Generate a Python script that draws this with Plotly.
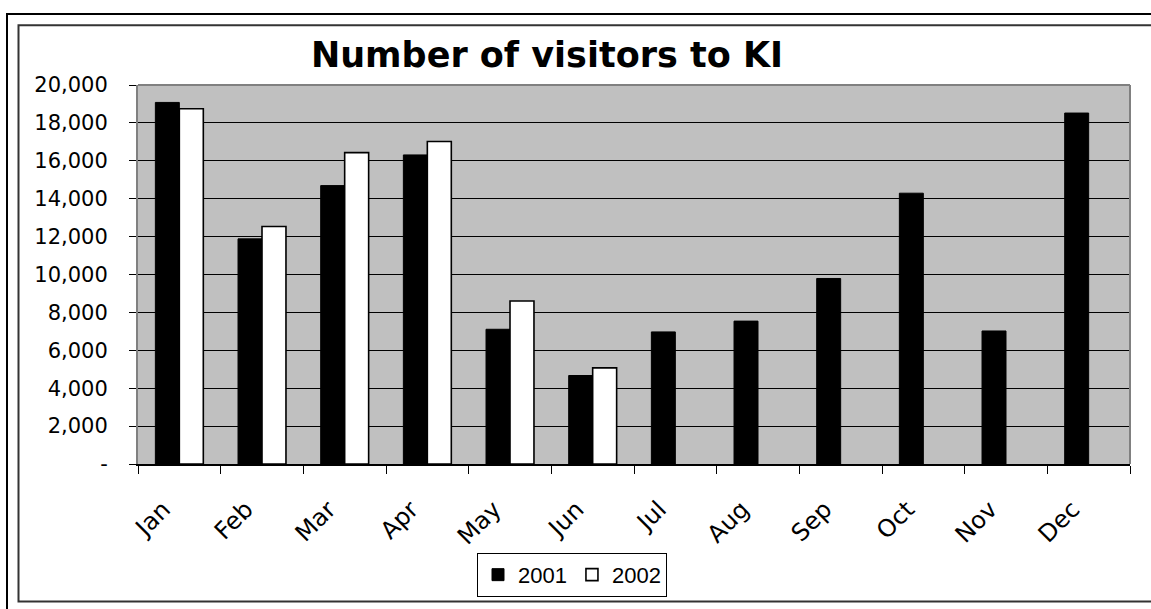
import plotly.graph_objects as go

months = ["Jan", "Feb", "Mar", "Apr", "May", "Jun", "Jul", "Aug", "Sep", "Oct", "Nov", "Dec"]
visitors_2001 = [19080, 11880, 14690, 16310, 7110, 4670, 6970, 7540, 9790, 14290, 7020, 18520]
visitors_2002 = [18750, 12530, 16430, 17020, 8600, 5070, None, None, None, None, None, None]
y_tick_values = [0, 2000, 4000, 6000, 8000, 10000, 12000, 14000, 16000, 18000, 20000]
y_tick_labels = ["-", "2,000", "4,000", "6,000", "8,000", "10,000", "12,000", "14,000",
                 "16,000", "18,000", "20,000"]

W, H = 1151, 609
L, R, T, B = 138, 1130, 84.7, 467.3


def px(x):
    return (x - L) / (R - L)


def py(y):
    return (B - y) / (B - T)


fig = go.Figure()
fig.add_trace(go.Bar(x=months, y=visitors_2001, name="2001",
                     marker=dict(color="black", line=dict(color="black", width=1))))
fig.add_trace(go.Bar(x=months, y=visitors_2002, name="2002",
                     marker=dict(color="white", line=dict(color="black", width=1.6))))

shapes = [
    # outer frame
    dict(type="rect", xref="paper", yref="paper", x0=px(7), x1=px(1165), y0=py(625), y1=py(13),
         line=dict(color="black", width=2), fillcolor="rgba(0,0,0,0)", layer="below"),
    # chart area frame
    dict(type="rect", xref="paper", yref="paper", x0=px(18.5), x1=px(1165), y0=py(606), y1=py(24.5),
         line=dict(color="#333333", width=2), fillcolor="rgba(0,0,0,0)", layer="below"),
    # plot area frame (top / right)
    dict(type="line", xref="paper", yref="paper", x0=0, x1=1, y0=1, y1=1,
         line=dict(color="#808080", width=2)),
    dict(type="line", xref="paper", yref="paper", x0=1, x1=1, y0=0, y1=1,
         line=dict(color="#808080", width=2)),
]

fig.update_layout(
    width=W, height=H,
    margin=dict(l=L, r=W - R, t=T, b=H - B, pad=0),
    paper_bgcolor="white",
    plot_bgcolor="#C0C0C0",
    barmode="group",
    bargap=0.42,
    bargroupgap=0,
    shapes=shapes,
    title=dict(text="<b>Number of visitors to KI</b>", xref="paper", x=px(547), xanchor="center",
               yref="container", y=1 - 55 / H, yanchor="middle",
               font=dict(family="DejaVu Sans, Verdana", size=35, color="black")),
    xaxis=dict(
        type="category", tickson="boundaries", ticks="outside", ticklen=8, tickwidth=1,
        tickcolor="black", showline=True, linecolor="black", linewidth=1.5,
        showgrid=False, tickangle=-45, ticklabelstandoff=20, ticklabelshift=-16,
        tickfont=dict(family="DejaVu Sans, Verdana", size=24, color="black"),
    ),
    yaxis=dict(
        range=[0, 20000], tickvals=y_tick_values, ticktext=y_tick_labels,
        ticks="outside", ticklen=7, tickwidth=1, tickcolor="black",
        showline=True, linecolor="#808080", linewidth=2,
        showgrid=True, gridcolor="black", gridwidth=1, zeroline=False,
        ticklabelstandoff=17,
        tickfont=dict(family="DejaVu Sans, Verdana", size=21, color="black"),
    ),
    legend=dict(
        orientation="h", x=px(572), xanchor="center", y=py(557), yanchor="top",
        bgcolor="white", bordercolor="black", borderwidth=1,
        font=dict(family="Liberation Sans, Arial", size=22, color="black"),
        itemwidth=30, tracegroupgap=0,
    ),
    showlegend=True,
)

fig.write_html("out.html")
